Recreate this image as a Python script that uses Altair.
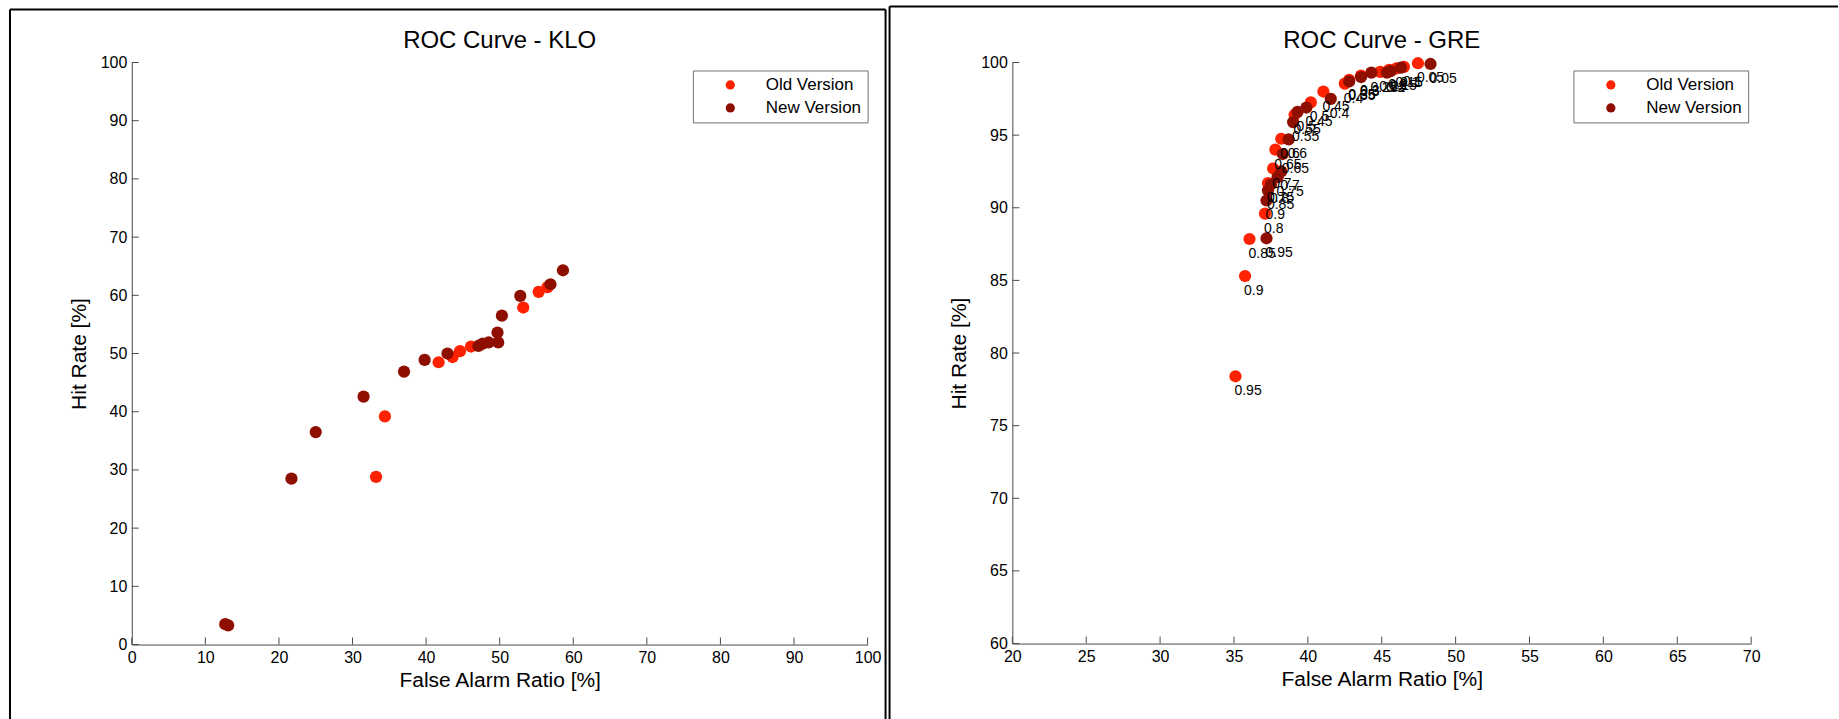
import altair as alt
import pandas as pd

# ---------------- data ----------------
series_names = ["Old Version", "New Version"]
series_colors = ["#FF2200", "#8E0E00"]

# KLO panel
klo_old_far = [33.2, 34.4, 41.7, 43.6, 44.6, 46.1, 53.2, 55.3, 56.5]
klo_old_hit = [28.8, 39.2, 48.5, 49.4, 50.4, 51.2, 57.9, 60.6, 61.4]
klo_new_far = [12.7, 13.1, 21.7, 25.0, 31.5, 37.0, 39.8, 42.9, 47.1, 47.7, 48.5, 49.8, 49.7, 50.3, 52.8, 56.9, 58.6]
klo_new_hit = [3.5, 3.3, 28.5, 36.5, 42.6, 46.9, 48.9, 50.0, 51.3, 51.7, 51.9, 51.9, 53.6, 56.5, 59.9, 61.9, 64.3]

# GRE panel (thresholds as point labels)
gre_labels = ["0.95", "0.9", "0.85", "0.8", "0.75", "0.7", "0.65", "0.6", "0.55", "0.5",
              "0.45", "0.4", "0.35", "0.3", "0.25", "0.2", "0.15", "0.1", "0.05"]
gre_old_far = [35.1, 35.75, 36.05, 37.1, 37.3, 37.65, 37.8, 38.2, 39.1, 40.2,
               41.05, 42.5, 42.8, 43.6, 44.9, 45.5, 46.0, 46.5, 47.45]
gre_old_hit = [78.4, 85.3, 87.85, 89.6, 91.7, 92.7, 94.0, 94.75, 96.4, 97.25,
               98.0, 98.55, 98.8, 99.1, 99.35, 99.5, 99.6, 99.7, 99.95]
gre_new_far = [37.2, 37.2, 37.3, 37.5, 37.95, 38.2, 38.3, 38.7, 39.0, 39.3,
               39.9, 41.55, 42.8, 43.6, 44.3, 45.35, 45.6, 46.3, 48.3]
gre_new_hit = [87.9, 90.5, 91.2, 91.6, 92.1, 92.5, 93.7, 94.7, 95.9, 96.6,
               96.9, 97.5, 98.7, 99.0, 99.3, 99.3, 99.4, 99.65, 99.9]

klo_x_ticks = [0, 10, 20, 30, 40, 50, 60, 70, 80, 90, 100]
klo_y_ticks = [0, 10, 20, 30, 40, 50, 60, 70, 80, 90, 100]
gre_x_ticks = [20, 25, 30, 35, 40, 45, 50, 55, 60, 65, 70]
gre_y_ticks = [60, 65, 70, 75, 80, 85, 90, 95, 100]

FONT = "Liberation Sans"
AXIS_COLOR = "#4a4a4a"


def make_df(old_far, old_hit, new_far, new_hit, labels=None):
    rows = []
    for i, (f, h) in enumerate(zip(old_far, old_hit)):
        rows.append({"far": f, "hit": h, "series": series_names[0],
                     "lab": labels[i] if labels else ""})
    for i, (f, h) in enumerate(zip(new_far, new_hit)):
        rows.append({"far": f, "hit": h, "series": series_names[1],
                     "lab": labels[i] if labels else ""})
    return pd.DataFrame(rows)


def panel(df, xdom, xticks, ydom, yticks, title, W, H, leg_xy, frame, with_labels):
    xs = alt.Scale(domain=xdom, nice=False, zero=False)
    ys = alt.Scale(domain=ydom, nice=False, zero=False)
    xax = alt.Axis(values=xticks, title="False Alarm Ratio [%]")
    yax = alt.Axis(values=yticks, title="Hit Rate [%]")
    color = alt.Color(
        "series:N",
        scale=alt.Scale(domain=series_names, range=series_colors),
        legend=alt.Legend(
            orient="none", legendX=leg_xy[0], legendY=leg_xy[1], title=None,
            strokeColor="#707070", fillColor="white", padding=6,
            symbolType="circle", symbolSize=85, symbolOffset=23,
            symbolStrokeWidth=0, labelOffset=27, labelFontSize=17,
            labelFont=FONT, labelColor="black", rowPadding=5,
        ),
    )
    pts = alt.Chart(df).mark_circle(size=150, opacity=1).encode(
        x=alt.X("far:Q", scale=xs, axis=xax),
        y=alt.Y("hit:Q", scale=ys, axis=yax),
        color=color,
    )
    layers = [pts]
    if with_labels:
        txt = alt.Chart(df).mark_text(
            align="left", baseline="middle", dx=-1, dy=15,
            fontSize=14, font=FONT, color="black",
        ).encode(
            x=alt.X("far:Q", scale=xs, axis=xax),
            y=alt.Y("hit:Q", scale=ys, axis=yax),
            text="lab:N",
        )
        layers.append(txt)
    xt = alt.Chart(pd.DataFrame({"far": xticks})).mark_rule(
        color=AXIS_COLOR, strokeWidth=1).encode(
        x=alt.X("far:Q", scale=xs, axis=xax),
        y=alt.value(H), y2=alt.value(H - 7),
    )
    yt = alt.Chart(pd.DataFrame({"hit": yticks})).mark_rule(
        color=AXIS_COLOR, strokeWidth=1).encode(
        y=alt.Y("hit:Q", scale=ys, axis=yax),
        x=alt.value(0), x2=alt.value(7),
    )
    layers += [xt, yt]
    one = pd.DataFrame({"a": [0]})
    for (x1, y1, x2, y2) in frame:
        layers.append(
            alt.Chart(one).mark_rule(color="black", strokeWidth=2).encode(
                x=alt.value(x1), y=alt.value(y1), x2=alt.value(x2), y2=alt.value(y2)
            )
        )
    ttl = alt.Chart(one).mark_text(
        fontSize=24, font=FONT, color="black", align="center", baseline="middle"
    ).encode(x=alt.value(W / 2), y=alt.value(-22), text=alt.value(title))
    layers.append(ttl)
    return alt.layer(*layers).properties(width=W, height=H)


klo_df = make_df(klo_old_far, klo_old_hit, klo_new_far, klo_new_hit)
gre_df = make_df(gre_old_far, gre_old_hit, gre_new_far, gre_new_hit, gre_labels)

KW, KH = 737, 583
GW, GH = 740, 582

klo_frame = [(-122, -53, -122, 670), (-122, -53, 755, -53), (755, -53, 755, 670)]
gre_frame = [(-123, -56, -123, 670), (-123, -56, 827, -56)]

left = panel(klo_df, [0, 100], klo_x_ticks, [0, 100], klo_y_ticks,
             "ROC Curve - KLO", KW, KH, (562, 8), klo_frame, False)
right = panel(gre_df, [20, 70], gre_x_ticks, [60, 100], gre_y_ticks,
              "ROC Curve - GRE", GW, GH, (562, 8), gre_frame, True)

chart = alt.hconcat(left, right, spacing=2).resolve_scale(
    color="independent", x="independent", y="independent"
).resolve_legend(color="independent").properties(
    padding={"left": 9, "top": 5, "right": 0, "bottom": 0}
).configure_view(stroke=None).configure_axis(
    labelFont=FONT, titleFont=FONT, labelFontSize=16, titleFontSize=21,
    labelColor="black", titleColor="black", titleFontWeight="normal",
    domainColor=AXIS_COLOR, domainWidth=1, tickSize=0, labelPadding=5,
    grid=False, labelFlush=False, labelOverlap=False,
).configure_axisX(titlePadding=4).configure_axisY(titlePadding=11)

chart.save("out.html", embed_options={"renderer": "svg", "actions": False})
